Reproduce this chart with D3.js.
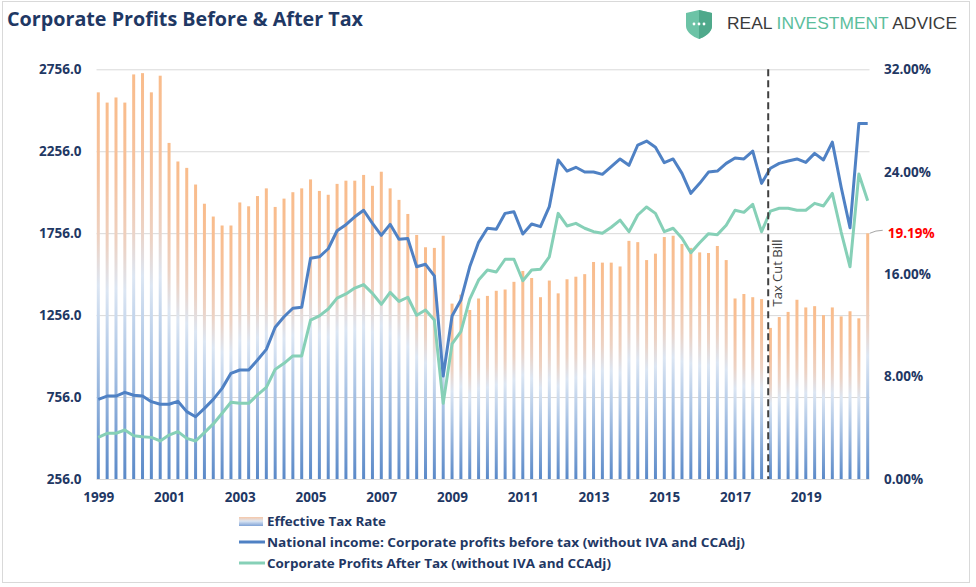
<!DOCTYPE html>
<html><head><meta charset="utf-8">
<script src="https://cdn.jsdelivr.net/npm/d3@7"></script>
<style>
html,body{margin:0;padding:0;background:#fff;}
svg{display:block;}
</style></head>
<body>
<svg id="chart" width="976" height="587"></svg>
<script>
// ---------------- DATA ----------------
const years = d3.range(1999, 2021);
const quarters = [];
years.forEach(y => ["Q1","Q2","Q3","Q4"].forEach(q => quarters.push(y + q)));

// Effective tax rate (%), right axis
const taxRate = [
  30.2, 29.4, 29.8, 29.4, 31.6, 31.7, 30.2, 31.5, 26.25, 24.8, 24.3, 23.0, 21.5, 20.5, 19.8, 19.8, 21.6, 21.3, 22.1, 22.7, 21.25, 21.9,
  22.4, 22.7, 23.4, 22.5, 22.2, 23.05, 23.3, 23.3, 23.75, 22.9, 24.0, 22.7, 21.8, 20.7, 19.06, 18.1, 18.05, 19.0, 13.7, 14.4, 13.2, 14.1,
  14.3, 14.7, 14.8, 15.4, 16.25, 15.7, 14.2, 15.5, 14.5, 15.6, 15.8, 16.0, 16.95, 16.9, 16.9, 16.6, 18.6, 18.5, 17.1, 17.6, 18.9, 19.0,
  18.36, 18.05, 17.7, 17.65, 18.2, 17.1, 14.1, 14.45, 14.2, 14.05, 11.8, 12.65, 13.05, 14.0, 13.4, 13.5, 12.8, 13.4, 12.7, 13.1, 12.55, 19.19
];
// National income: Corporate profits before tax (left axis)
const profitsBefore = [
  742, 762, 762, 785, 767, 762, 728, 712, 712, 730, 667, 636, 687, 742, 809, 901, 921, 921, 982, 1047, 1182, 1246,
  1298, 1304, 1603, 1612, 1661, 1771, 1808, 1856, 1896, 1816, 1743, 1810, 1719, 1723, 1551, 1566, 1495, 884, 1251, 1348, 1551, 1700,
  1786, 1780, 1877, 1887, 1751, 1812, 1796, 1918, 2203, 2135, 2158, 2129, 2129, 2115, 2162, 2209, 2170, 2294, 2318, 2280, 2186, 2209,
  2121, 1999, 2060, 2129, 2135, 2182, 2215, 2209, 2257, 2060, 2152, 2182, 2196, 2209, 2188, 2243, 2203, 2312, 2036, 1789, 2426, 2426
];
// Corporate profits after tax (left axis)
const profitsAfter = [
  510, 535, 535, 555, 520, 514, 510, 488, 524, 545, 504, 488, 539, 592, 657, 724, 718, 718, 769, 815, 925, 962,
  1007, 1007, 1226, 1251, 1293, 1360, 1385, 1421, 1442, 1389, 1322, 1395, 1340, 1365, 1255, 1287, 1226, 718, 1080, 1155, 1353, 1470,
  1531, 1519, 1597, 1597, 1466, 1531, 1536, 1612, 1877, 1800, 1816, 1786, 1765, 1755, 1792, 1836, 1765, 1867, 1916, 1877, 1765, 1786,
  1725, 1637, 1698, 1753, 1747, 1804, 1896, 1883, 1932, 1765, 1891, 1908, 1908, 1896, 1896, 1938, 1922, 1999, 1763, 1551, 2117, 1954
];
const leftTicks = [256, 756, 1256, 1756, 2256, 2756];
const rightTicks = [0, 8, 16, 24, 32];
const xTickLabels = ["1999","2001","2003","2005","2007","2009","2011","2013","2015","2017","2019"];
const taxCutQuarter = "2017Q4";
const seriesNames = ["Effective Tax Rate",
  "National income: Corporate profits before tax (without IVA and CCAdj)",
  "Corporate Profits After Tax (without IVA and CCAdj)"];

// ---------------- LAYOUT ----------------
const svg = d3.select("#chart");
const plotL = 96.5, plotR = 869.5, plotT = 69.3, plotB = 479;
const blue = "#4F81C4", green = "#86D0B7", navy = "#1F3864";

const x = d3.scalePoint().domain(quarters).range([98.3, 867.7]);
const yL = d3.scaleLinear().domain([256, 2756]).range([plotB, plotT]);
const yR = d3.scaleLinear().domain([0, 32]).range([plotB, plotT]);

// frame
svg.append("rect").attr("x", 2.5).attr("y", 1.5).attr("width", 967).attr("height", 581)
  .attr("fill", "none").attr("stroke", "#D9D9D9").attr("stroke-width", 1);

// defs: bar gradient
const defs = svg.append("defs");
const grad = defs.append("linearGradient").attr("id", "barGrad")
  .attr("x1", 0).attr("y1", 0).attr("x2", 0).attr("y2", 1);
[[0, "#F9BC8B"], [0.2, "#F6C29E"], [0.38, "#EDD2C3"], [0.5, "#DCE6F3"], [0.68, "#AFC7E6"], [1, "#5A89C8"]]
  .forEach(s => grad.append("stop").attr("offset", s[0]).attr("stop-color", s[1]));
const lgrad = defs.append("linearGradient").attr("id", "legGrad")
  .attr("x1", 0).attr("y1", 0).attr("x2", 0).attr("y2", 1);
[[0, "#F6C7A8"], [0.45, "#DCE6F3"], [1, "#7FA2D6"]]
  .forEach(s => lgrad.append("stop").attr("offset", s[0]).attr("stop-color", s[1]));

// title
svg.append("text").attr("x", 7).attr("y", 26)
  .attr("font-family", "'Open Sans', sans-serif").attr("font-weight", 700).attr("font-size", 19.5)
  .attr("fill", navy).attr("textLength", 356).attr("lengthAdjust", "spacingAndGlyphs")
  .text("Corporate Profits Before & After Tax");

// logo
const logo = svg.append("g").attr("transform", "translate(686,10)");
logo.append("path").attr("d", "M0,3 L13,0 L26,3 L26,16 C26,22 19,27 13,29 C7,27 0,22 0,16 Z").attr("fill", "#6CC3A6");
logo.append("path").attr("d", "M13,0 L26,3 L26,16 C26,22 19,27 13,29 Z").attr("fill", "#4FA98B");
[8, 13, 18].forEach(cx => logo.append("circle").attr("cx", cx).attr("cy", 14).attr("r", 1.4).attr("fill", "#fff"));
const lt = svg.append("text").attr("x", 727).attr("y", 29)
  .attr("font-family", "'Liberation Sans', Arial, sans-serif").attr("font-size", 16.5)
  .attr("textLength", 230).attr("lengthAdjust", "spacingAndGlyphs");
lt.append("tspan").attr("fill", "#3A3A3A").text("REAL ");
lt.append("tspan").attr("fill", "#5BBE9C").text("INVESTMENT ");
lt.append("tspan").attr("fill", "#3A3A3A").text("ADVICE");

// gridlines
svg.append("g").attr("transform", `translate(${plotL},0)`)
  .call(d3.axisLeft(yL).tickValues(leftTicks).tickSize(-(plotR - plotL)).tickFormat(""))
  .call(g => g.select(".domain").remove())
  .call(g => g.selectAll("line").attr("stroke", "#D9D9D9").attr("stroke-width", 1));

// bars
const bw = 3;
svg.append("g").selectAll("rect").data(taxRate).join("rect")
  .attr("x", (d, i) => x(quarters[i]) - bw / 2)
  .attr("y", d => yR(d))
  .attr("width", bw)
  .attr("height", d => yR(0) - yR(d))
  .attr("fill", "url(#barGrad)");

// lines
const lineL = d3.line().x((d, i) => x(quarters[i])).y(d => yL(d));
svg.append("path").datum(profitsAfter).attr("d", lineL)
  .attr("fill", "none").attr("stroke", green).attr("stroke-width", 3).attr("stroke-linejoin", "round");
svg.append("path").datum(profitsBefore).attr("d", lineL)
  .attr("fill", "none").attr("stroke", blue).attr("stroke-width", 3).attr("stroke-linejoin", "round");

// tax cut line
const step = x.step();
const xTax = x(taxCutQuarter) + 0.75 * step;
svg.append("line").attr("x1", xTax).attr("x2", xTax).attr("y1", plotT).attr("y2", plotB)
  .attr("stroke", "#404040").attr("stroke-width", 2).attr("stroke-dasharray", "7,4");
svg.append("text").attr("transform", `translate(${xTax + 13.5},273) rotate(-90)`)
  .attr("text-anchor", "middle").attr("font-family", "'Open Sans', sans-serif").attr("font-size", 13)
  .attr("fill", "#404040").text("Tax Cut Bill");

// axes
const axisFont = g => g.selectAll("text").attr("font-family", "'Open Sans', sans-serif")
  .attr("font-weight", 700).attr("font-size", 13.5).attr("fill", navy);

svg.append("g").attr("transform", `translate(${plotL},0)`)
  .call(d3.axisLeft(yL).tickValues(leftTicks).tickSize(0).tickPadding(15).tickFormat(d3.format(".1f")))
  .call(g => g.select(".domain").remove()).call(axisFont);

svg.append("g").attr("transform", `translate(${plotR},0)`)
  .call(d3.axisRight(yR).tickValues(rightTicks).tickSize(0).tickPadding(14.5).tickFormat(d => d3.format(".2f")(d) + "%"))
  .call(g => g.select(".domain").remove()).call(axisFont);

svg.append("g").attr("transform", `translate(0,${plotB})`)
  .call(d3.axisBottom(x).tickValues(xTickLabels.map(y => y + "Q1")).tickSize(0).tickPadding(13).tickFormat(d => d.slice(0, 4)))
  .call(g => g.select(".domain").remove()).call(axisFont);

// 19.19% callout
const last = quarters.length - 1;
const lx = x(quarters[last]), ly = yR(taxRate[last]);
svg.append("path").attr("d", `M${lx + 2},${ly} Q${lx + 8},${ly - 3} ${lx + 15},${ly - 3}`)
  .attr("fill", "none").attr("stroke", "#A6A6A6").attr("stroke-width", 1);
svg.append("text").attr("x", lx + 20).attr("y", ly).attr("dy", "0.35em")
  .attr("font-family", "'Open Sans', sans-serif").attr("font-weight", 700).attr("font-size", 13.5)
  .attr("fill", "#FF0000").text(d3.format(".2f")(taxRate[last]) + "%");

// legend
const leg = svg.append("g");
const legFont = sel => sel.attr("font-family", "'Open Sans', sans-serif").attr("font-weight", 700)
  .attr("font-size", 13).attr("fill", navy).attr("dy", "0.35em").attr("lengthAdjust", "spacingAndGlyphs");
leg.append("rect").attr("x", 239).attr("y", 517).attr("width", 24).attr("height", 9).attr("fill", "url(#legGrad)");
leg.append("text").attr("x", 267).attr("y", 521).attr("textLength", 119).call(legFont).text(seriesNames[0]);
leg.append("line").attr("x1", 239).attr("x2", 265).attr("y1", 542).attr("y2", 542).attr("stroke", blue).attr("stroke-width", 3);
leg.append("text").attr("x", 267).attr("y", 542).attr("textLength", 478).call(legFont).text(seriesNames[1]);
leg.append("line").attr("x1", 239).attr("x2", 265).attr("y1", 563).attr("y2", 563).attr("stroke", green).attr("stroke-width", 3);
leg.append("text").attr("x", 267).attr("y", 563).attr("textLength", 344).call(legFont).text(seriesNames[2]);
</script>
</body></html>
